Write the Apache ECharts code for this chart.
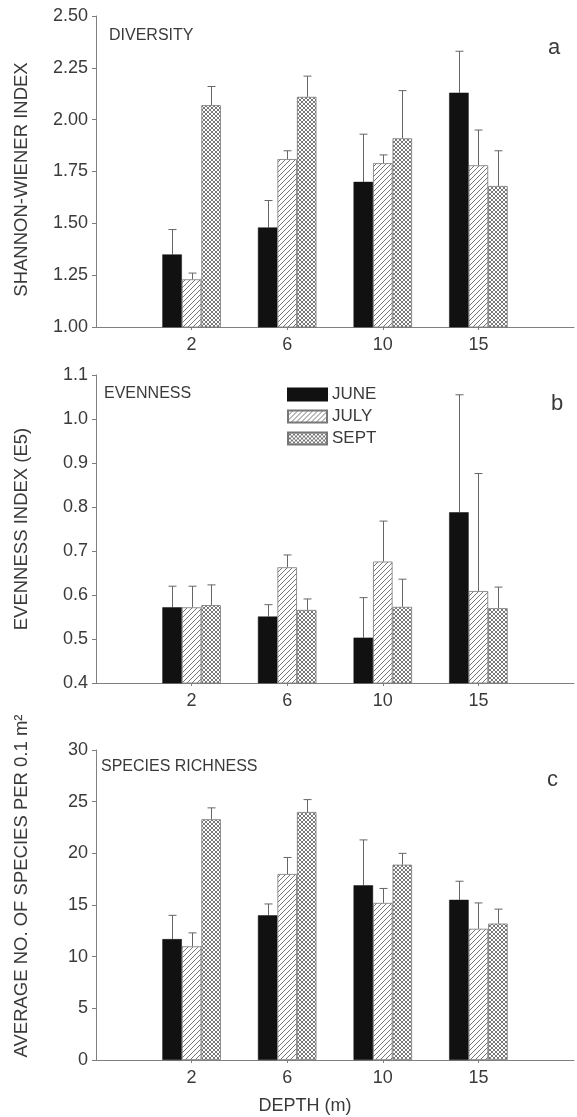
<!DOCTYPE html>
<html>
<head>
<meta charset="utf-8">
<script src="https://cdn.jsdelivr.net/npm/echarts@6/dist/echarts.min.js"></script>
<style>
  html, body { margin: 0; padding: 0; background: #fff; }
  #chart { width: 577px; height: 1117px; }
</style>
</head>
<body>
<div id="chart"></div>
<script>
// depth categories (padded so the axis runs 0..5 like the original)
var depths = ["", "2", "6", "10", "15", ""];
var months = ["JUNE", "JULY", "SEPT"];

// a: Shannon-Wiener diversity, means and upper error
var divJune = [1.35, 1.48, 1.70, 2.13];
var divJuly = [1.23, 1.81, 1.79, 1.78];
var divSept = [2.07, 2.11, 1.91, 1.68];
var divJuneErr = [1.47, 1.61, 1.93, 2.33];
var divJulyErr = [1.26, 1.85, 1.83, 1.95];
var divSeptErr = [2.16, 2.21, 2.14, 1.85];

// b: evenness
var evnJune = [0.572, 0.551, 0.503, 0.788];
var evnJuly = [0.572, 0.663, 0.676, 0.609];
var evnSept = [0.577, 0.566, 0.573, 0.570];
var evnJuneErr = [0.620, 0.578, 0.594, 1.055];
var evnJulyErr = [0.620, 0.691, 0.768, 0.876];
var evnSeptErr = [0.623, 0.591, 0.636, 0.618];

// c: species richness
var spJune = [11.7, 14.0, 16.9, 15.5];
var spJuly = [11.0, 18.0, 15.2, 12.7];
var spSept = [23.3, 24.0, 18.9, 13.2];
var spJuneErr = [14.0, 15.1, 21.3, 17.3];
var spJulyErr = [12.3, 19.6, 16.6, 15.2];
var spSeptErr = [24.4, 25.2, 20.0, 14.6];

var FONT = "'Liberation Sans', Arial, sans-serif";
var TXT = "#3a3a3a";
var AX = "#808080";
var BW = 19.5;

function hatchPattern() {
  var c = document.createElement("canvas");
  c.width = 5; c.height = 5;
  var g = c.getContext("2d");
  g.fillStyle = "#fff"; g.fillRect(0, 0, 5, 5);
  g.strokeStyle = "#666"; g.lineWidth = 0.9;
  g.beginPath();
  g.moveTo(-1, 6); g.lineTo(6, -1);
  g.moveTo(-1, 1); g.lineTo(1, -1);
  g.moveTo(4, 6); g.lineTo(6, 4);
  g.stroke();
  return { image: c, repeat: "repeat" };
}

function crossPattern() {
  var c = document.createElement("canvas");
  c.width = 4; c.height = 4;
  var g = c.getContext("2d");
  g.fillStyle = "#fff"; g.fillRect(0, 0, 4, 4);
  g.strokeStyle = "#555"; g.lineWidth = 0.8;
  g.beginPath();
  g.moveTo(0, 4); g.lineTo(4, 0);
  g.moveTo(0, 0); g.lineTo(4, 4);
  g.stroke();
  return { image: c, repeat: "repeat" };
}

var fills = [
  { color: "#111", borderColor: "#111", borderWidth: 0.5 },
  { color: hatchPattern(), borderColor: "#777", borderWidth: 0.8 },
  { color: crossPattern(), borderColor: "#777", borderWidth: 0.8 }
];

function pad(arr) {
  return [null].concat(arr).concat([null]);
}

var panels = [
  {
    top: 16, height: 311, min: 1, max: 2.5, interval: 0.25, digits: 2,
    name: "SHANNON-WIENER INDEX", namePad: [0, 16, 0, 0],
    vals: [divJune, divJuly, divSept], errs: [divJuneErr, divJulyErr, divSeptErr]
  },
  {
    top: 375, height: 308, min: 0.4, max: 1.1, interval: 0.1, digits: 1,
    name: "EVENNESS INDEX (E5)", namePad: [0, 0, 0, 0],
    vals: [evnJune, evnJuly, evnSept], errs: [evnJuneErr, evnJulyErr, evnSeptErr]
  },
  {
    top: 750, height: 310, min: 0, max: 30, interval: 5, digits: 0,
    name: "AVERAGE NO. OF SPECIES PER 0.1 m\u00B2", namePad: [0, 0, 0, 38],
    vals: [spJune, spJuly, spSept], errs: [spJuneErr, spJulyErr, spSeptErr]
  }
];

var grids = [], xAxes = [], yAxes = [], series = [];

panels.forEach(function (p, pi) {
  grids.push({ left: 96, right: 0, top: p.top, height: p.height });
  xAxes.push({
    type: "category", gridIndex: pi, data: depths, boundaryGap: false,
    axisLine: { lineStyle: { color: AX, width: 1 } },
    axisTick: {
      length: 3, lineStyle: { color: AX },
      interval: function (i) { return i >= 1 && i <= 4; }
    },
    axisLabel: {
      interval: 0, color: TXT, fontFamily: FONT, fontSize: 18, margin: 9
    },
    splitLine: { show: false },
    name: pi === 2 ? "DEPTH (m)" : "",
    nameLocation: "middle", nameGap: 37,
    nameTextStyle: { color: TXT, fontFamily: FONT, fontSize: 18, padding: [0, 60, 0, 0] }
  });
  yAxes.push({
    type: "value", gridIndex: pi, min: p.min, max: p.max, interval: p.interval,
    axisLine: { show: true, lineStyle: { color: AX, width: 1 } },
    axisTick: { show: true, length: 4, lineStyle: { color: AX } },
    splitLine: { show: false },
    axisLabel: {
      color: TXT, fontFamily: FONT, fontSize: 18, margin: 8,
      formatter: function (v) { return v.toFixed(p.digits); }
    },
    name: p.name, nameLocation: "middle", nameGap: 65,
    nameTextStyle: { color: TXT, fontFamily: FONT, fontSize: 18.5, padding: p.namePad }
  });

  months.forEach(function (m, mi) {
    series.push({
      name: m, type: "bar", xAxisIndex: pi, yAxisIndex: pi,
      data: pad(p.vals[mi]), barWidth: BW, barGap: "0%",
      itemStyle: fills[mi], silent: true
    });
  });

  // upward error bars drawn through the axes
  var errData = [];
  months.forEach(function (m, mi) {
    p.errs[mi].forEach(function (e, ci) {
      errData.push([ci + 1, p.vals[mi][ci], e, mi]);
    });
  });
  series.push({
    type: "custom", xAxisIndex: pi, yAxisIndex: pi, silent: true, z: 1,
    data: errData,
    renderItem: function (params, api) {
      var base = api.coord([api.value(0), api.value(1)]);
      var top = api.coord([api.value(0), api.value(2)]);
      var x = Math.round(base[0] + (api.value(3) - 1) * BW) + 0.5;
      var st = { stroke: "#666", lineWidth: 1 };
      return {
        type: "group",
        children: [
          { type: "line", shape: { x1: x, y1: base[1], x2: x, y2: top[1] }, style: st },
          { type: "line", shape: { x1: x - 4, y1: top[1], x2: x + 4, y2: top[1] }, style: st }
        ]
      };
    }
  });
});

var chart = echarts.init(document.getElementById("chart"), null, { renderer: "canvas" });
chart.setOption({
  animation: false,
  backgroundColor: "#fff",
  grid: grids,
  xAxis: xAxes,
  yAxis: yAxes,
  series: series,
  legend: {
    data: months, orient: "vertical", left: 287, top: 386, padding: 0,
    itemWidth: 39, itemHeight: 12, itemGap: 5, selectedMode: false,
    icon: "rect",
    textStyle: { color: TXT, fontFamily: FONT, fontSize: 17 }
  },
  graphic: [
    { type: "text", left: 109, top: 28, style: { text: "DIVERSITY", fill: TXT, font: "16px " + FONT } },
    { type: "text", left: 548, top: 37, style: { text: "a", fill: TXT, font: "22px " + FONT } },
    { type: "text", left: 104, top: 386, style: { text: "EVENNESS", fill: TXT, font: "16px " + FONT } },
    { type: "text", left: 551, top: 393, style: { text: "b", fill: TXT, font: "22px " + FONT } },
    { type: "text", left: 101, top: 759, style: { text: "SPECIES RICHNESS", fill: TXT, font: "16px " + FONT } },
    { type: "text", left: 547, top: 769, style: { text: "c", fill: TXT, font: "22px " + FONT } }
  ]
});
</script>
</body>
</html>
